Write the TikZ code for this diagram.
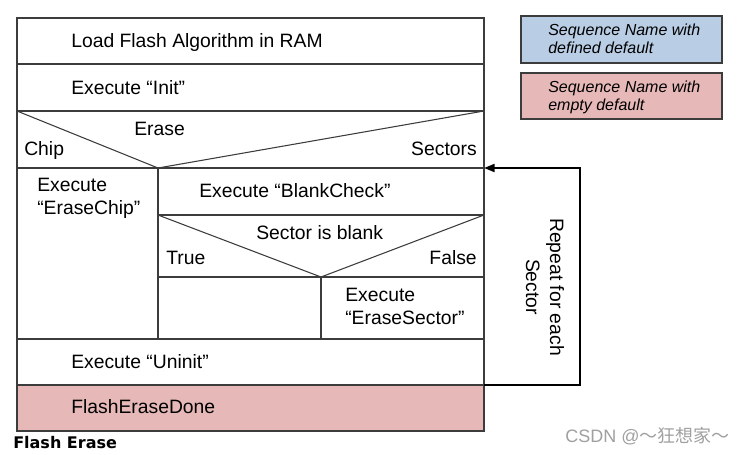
\documentclass[tikz,border=0pt]{standalone}
\usepackage{fontspec}
\setmainfont{Liberation Sans}
\newfontfamily\capfont{DejaVu Sans}
\newfontfamily\cjkfont{Noto Sans CJK SC}
\usepackage{tikz}
\usetikzlibrary{arrows.meta}
\usepackage{xcolor}
\definecolor{gridCol}{RGB}{60,60,60}
\definecolor{emptyFill}{RGB}{230,185,184}
\definecolor{definedFill}{RGB}{185,205,229}
\definecolor{markCol}{RGB}{160,160,160}

\begin{document}
\begin{tikzpicture}[x=0.75pt, y=-0.75pt,
  every node/.style={inner sep=0pt},
  celltext/.style={anchor=base west, font=\fontsize{14.5}{17.25}\selectfont},
  celltextR/.style={anchor=base east, font=\fontsize{14.5}{17.25}\selectfont},
  twoline/.style={anchor=west, align=left, font=\fontsize{14.5}{17.25}\selectfont},
  gridline/.style={draw=gridCol, line width=0.8pt},
  legendbox/.style={draw=gridCol, line width=0.8pt, fill=#1},
  legendtext/.style={anchor=west, align=left, font=\fontsize{12}{13.5}\selectfont\itshape},
  looparrow/.style={line width=1.5pt, -{Triangle[length=8pt, width=6pt]}},
]
\useasboundingbox (0,0) rectangle (748,454);
% LAST ROW FILL
\fill[emptyFill] (17,385) rectangle (484,431);
% GRID
\draw[gridline] (17,18) rectangle (484,431);
\draw[gridline] (17,64) -- (484,64);
\draw[gridline] (17,111) -- (484,111);
\draw[gridline] (17,168) -- (484,168);
\draw[gridline] (17,111) -- (158,168) -- (484,111);
\draw[gridline] (158,168) -- (158,339);
\draw[gridline] (158,215) -- (484,215);
\draw[gridline] (158,277) -- (484,277);
\draw[gridline] (158,215) -- (321,277) -- (484,215);
\draw[gridline] (321,277) -- (321,339);
\draw[gridline] (17,339) -- (484,339);
\draw[gridline] (17,385) -- (484,385);
% CELL TEXTS
\node[celltext] (load) at (71,47.5) {Load Flash Algorithm in RAM};
\node[celltext] (init) at (71,94) {Execute “Init”};
\node[celltext] (erase) at (134,135) {Erase};
\node[celltext] (chip) at (24,155) {Chip};
\node[celltextR] (sectors) at (477,155) {Sectors};
\node[twoline] (erasechip) at (37,198.5) {Execute\\“EraseChip”};
\node[celltext] (blank) at (199,197) {Execute “BlankCheck”};
\node[celltext] (isblank) at (256,239) {Sector is blank};
\node[celltext] (true) at (166,264) {True};
\node[celltextR] (false) at (477,264) {False};
\node[twoline] (erasesector) at (345,306.5) {Execute\\“EraseSector”};
\node[celltext] (uninit) at (71,368) {Execute “Uninit”};
\node[celltext] (done) at (71,413) {FlashEraseDone};
% LOOP
\coordinate (loopstart) at (484,385);
\coordinate (loopturn) at (580,168);
\coordinate (loopend) at (484,168);
\draw[looparrow] (loopstart) -| (loopturn) -- (loopend);
\node[rotate=-90, align=center, font=\fontsize{14.5}{18}\selectfont] (repeat) at (545,287) {Repeat for each\\Sector};
% LEGEND
\draw[legendbox=definedFill] (521,16) rectangle (722,63);
\draw[legendbox=emptyFill] (521,73) rectangle (722,119);
\node[legendtext] (defined) at (548,38.5) {Sequence Name with\\defined default};
\node[legendtext] (empty) at (548,97) {Sequence Name with\\empty default};
% CAPTION
\node[anchor=base west, font=\capfont\bfseries\fontsize{12}{14}\selectfont] (caption) at (13,448) {Flash Erase};
\node[anchor=base west, text=markCol, font=\fontsize{13.5}{15}\selectfont] (mark) at (565,442) {CSDN @{\cjkfont ～狂想家～}};
\end{tikzpicture}
\end{document}
